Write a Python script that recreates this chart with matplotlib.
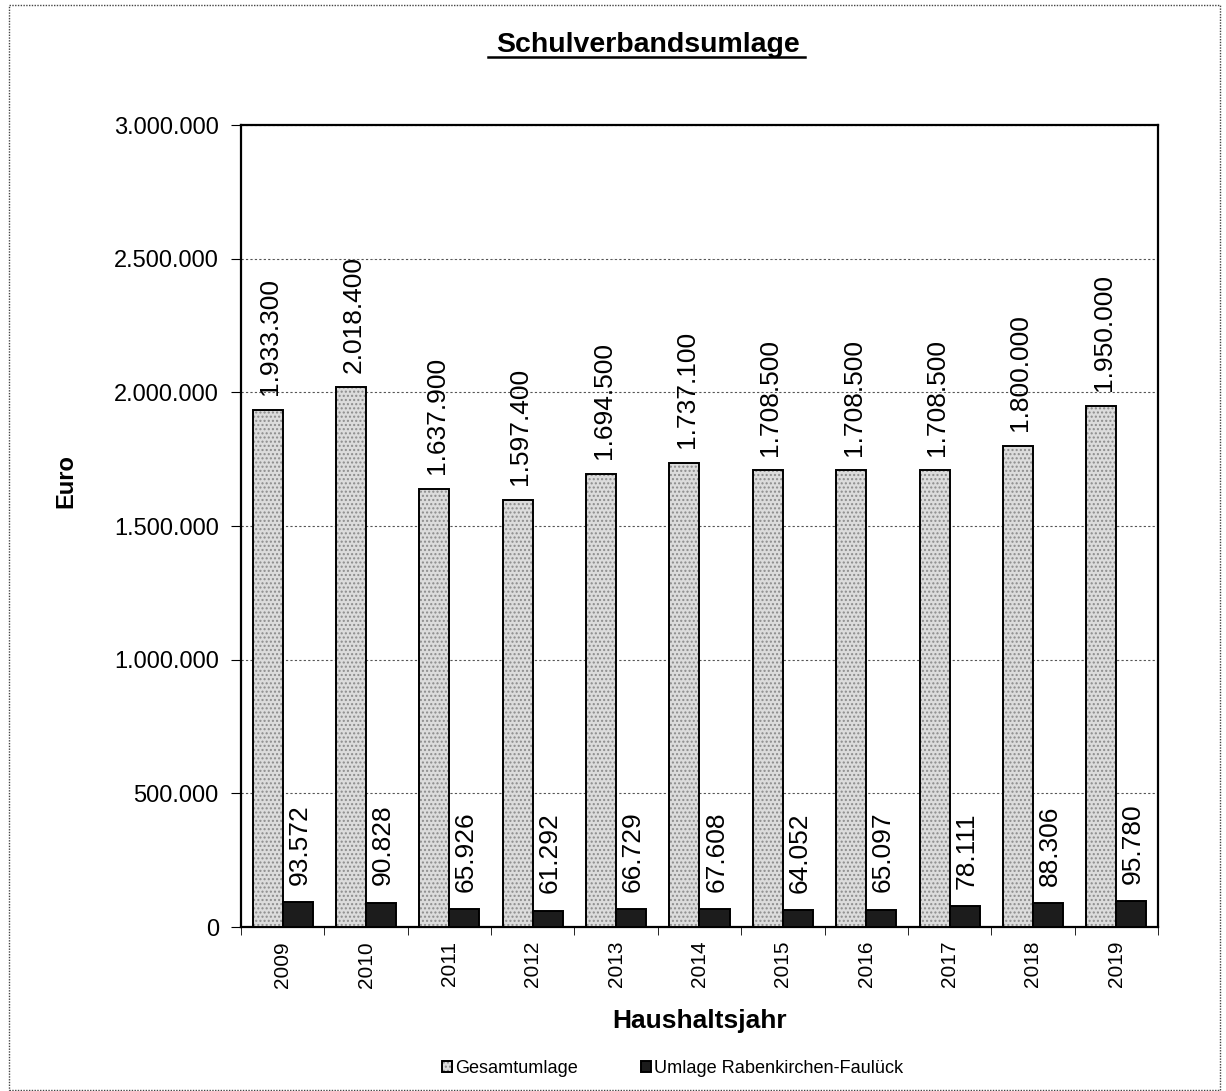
import matplotlib
matplotlib.use("Agg")
import matplotlib.pyplot as plt
import numpy as np
from matplotlib.patches import Rectangle
from matplotlib.ticker import FuncFormatter

plt.rcParams["font.family"] = ["Liberation Sans", "DejaVu Sans"]

years = ["2009", "2010", "2011", "2012", "2013", "2014", "2015", "2016", "2017", "2018", "2019"]
gesamt = [1933300, 2018400, 1637900, 1597400, 1694500, 1737100, 1708500, 1708500, 1708500, 1800000, 1950000]
raben = [93572, 90828, 65926, 61292, 66729, 67608, 64052, 65097, 78111, 88306, 95780]


def de(v):
    return f"{v:,.0f}".replace(",", ".")


fig = plt.figure(figsize=(12.26, 10.91), dpi=100)
ax = fig.add_axes([0.1966, 0.1503, 0.7479, 0.7351])

x = np.arange(len(years))
w = 0.36
b1 = ax.bar(x - w / 2, gesamt, w, color="#dcdcdc", edgecolor="black", lw=1.4,
            hatch="....", label="Gesamtumlage", zorder=3)
b2 = ax.bar(x + w / 2, raben, w, color="#1c1c1c", edgecolor="black", lw=1.4,
            label="Umlage Rabenkirchen-Faulück", zorder=3)
for bar in b1:
    bar._hatch_color = (0.55, 0.55, 0.55, 1)

# Wertbeschriftungen (senkrecht ueber den Saeulen)
for xi, v in zip(x, gesamt):
    ax.text(xi - w / 2 + 0.03, v + 55000, de(v), rotation=90, ha="center", va="bottom", fontsize=19)
for xi, v in zip(x, raben):
    ax.text(xi + w / 2 + 0.02, v + 65000, de(v), rotation=90, ha="center", va="bottom", fontsize=19)

ax.set_xlim(-0.5, len(years) - 0.5)
ax.set_ylim(0, 3000000)
ax.set_yticks(np.arange(0, 3000001, 500000))
ax.yaxis.set_major_formatter(FuncFormatter(lambda v, p: de(v)))
ax.tick_params(axis="y", labelsize=17, direction="out", length=7, pad=9)
ax.set_xticks(x)
ax.set_xticklabels(years, rotation=90, fontsize=15)
ax.tick_params(axis="x", length=0, pad=10)
ax.set_xticks(np.arange(-0.5, len(years)), minor=True)
ax.tick_params(axis="x", which="minor", direction="out", length=6)
ax.grid(axis="y", ls=(0, (2, 2)), color="#555555", lw=0.8, zorder=0)
for s in ax.spines.values():
    s.set_linewidth(1.6)

ax.set_ylabel("Euro", fontsize=17, fontweight="bold")
ax.yaxis.set_label_coords(-0.178, 0.556)
ax.set_xlabel("Haushaltsjahr", fontsize=19, fontweight="bold")
ax.xaxis.set_label_coords(0.5, -0.102)

fig.text(0.5285, 1 - 52 / 1091, "Schulverbandsumlage", ha="center", va="baseline",
         fontsize=20.5, fontweight="bold")
fig.add_artist(plt.Line2D([488 / 1226, 805 / 1226], [1 - 57 / 1091, 1 - 57 / 1091],
                          color="black", lw=1.8))

ax.legend(loc="center", bbox_to_anchor=(0.5485, 0.021), bbox_transform=fig.transFigure,
          ncol=2, frameon=False, fontsize=13.1, handlelength=0.55, handleheight=0.55,
          handletextpad=0.15, columnspacing=3.5, borderpad=0)

fig.add_artist(Rectangle((0.007, 0.001), 0.988, 0.994, transform=fig.transFigure,
                         fill=False, ec="#444444", lw=1, ls=(0, (1, 1))))

fig.savefig("out.png", dpi=100)
